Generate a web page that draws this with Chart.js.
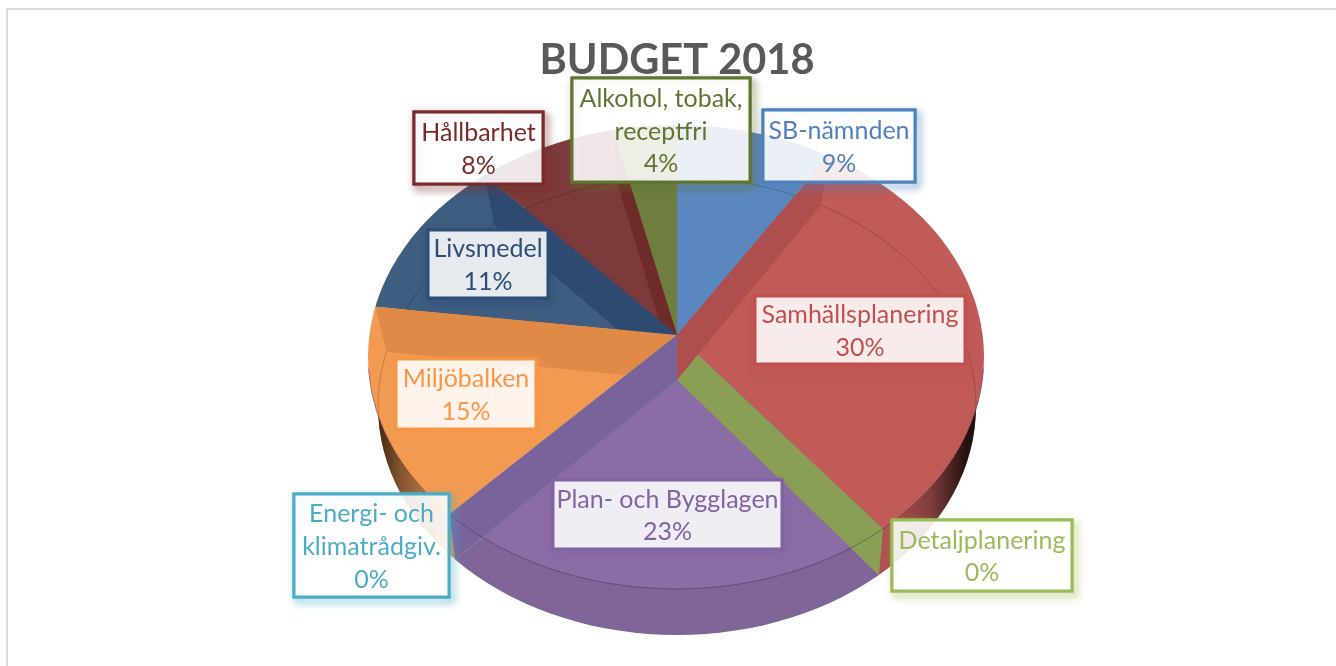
<!DOCTYPE html>
<html lang="sv">

<head>
    <meta charset="UTF-8">
    <title>BUDGET 2018</title>
    <script src="https://cdn.jsdelivr.net/npm/chart.js@4/dist/chart.umd.min.js"></script>
    <style>
        html, body { margin: 0; padding: 0; background: #fff; overflow: hidden; width: 1336px; height: 666px; }
        .ram { position: absolute; left: 6px; top: 8px; width: 1400px; height: 800px; border: 2px solid #dcdcdc; box-sizing: border-box; }
        canvas { position: absolute; left: 0; top: 0; }
    </style>
</head>

<body>
    <div class="ram"></div>
    <canvas id="myChart" width="1354" height="666"></canvas>

    <script>
        var titel = 'BUDGET 2018';
        var kategorier = ['SB-nämnden', 'Samhällsplanering', 'Detaljplanering', 'Plan- och Bygglagen', 'Energi- och klimatrådgiv.', 'Miljöbalken', 'Livsmedel', 'Hållbarhet', 'Alkohol, tobak, receptfri'];
        var andelar = [8.9, 30.49, 0, 22.61, 0, 15, 11.4, 8, 3.6];

        // rader i etiketterna
        var etikettRader = [['SB-nämnden'], ['Samhällsplanering'], ['Detaljplanering'], ['Plan- och Bygglagen'], ['Energi- och', 'klimatrådgiv.'], ['Miljöbalken'], ['Livsmedel'], ['Hållbarhet'], ['Alkohol, tobak,', 'receptfri']];

        var ytFarger = ['#5b87bf', '#c05b58', '#9bbb59', '#8a6da5', '#4bacc6', '#f39a52', '#3f5c81', '#7c3a3a', '#6d7e3f'];
        var kantFarger = ['#ae4f4f', '#ae4f4f', '#8a9f55', '#7a639b', '#4bacc6', '#e08a48', '#2f4a70', '#6f2a2a', '#6d7e3f'];
        var textFarger = ['#4f81bd', '#c0504d', '#9bbb59', '#8064a2', '#4bacc6', '#f79646', '#2c4d75', '#772c2a', '#5f7530'];

        // etikettrutor: x, y, bredd, höjd
        var rutor = [
            [763, 110, 152, 72],
            [755, 296, 210, 68],
            [892, 520, 180, 71],
            [553, 480, 229, 69],
            [294, 494, 155, 103],
            [396, 359, 140, 70],
            [428, 230, 120, 68],
            [414, 112, 129, 72],
            [572, 78, 178, 104]
        ];

        // ovansida och undersida av kakan (ellips + spets)
        var topp = { cx: 676, cy: 357, rx: 308, ry: 232, ax: 677, ay: 335, lutning: 0.74 };
        var botten = { cx: 677, cy: 406, rx: 299, ry: 229, ax: 677, ay: 380, lutning: 0.76 };

        function ritaYta(ctx, bagar, yta) {
            ctx.save();
            ctx.beginPath();
            ctx.ellipse(yta.cx, yta.cy, yta.rx, yta.ry, 0, 0, Math.PI * 2);
            ctx.clip();
            bagar.forEach(function (bage) {
                var skala = 440 / bage.outerRadius;
                ctx.save();
                ctx.translate(yta.ax, yta.ay);
                ctx.scale(skala, skala * yta.lutning);
                ctx.translate(-bage.x, -bage.y);
                bage.draw(ctx);
                ctx.restore();
            });
            ctx.restore();
        }

        function kantPunkt(yta, vinkel) {
            var dx = Math.cos(vinkel), dy = Math.sin(vinkel) * yta.lutning;
            var ox = (yta.ax - yta.cx) / yta.rx, oy = (yta.ay - yta.cy) / yta.ry;
            var vx = dx / yta.rx, vy = dy / yta.ry;
            var a = vx * vx + vy * vy, b = 2 * (ox * vx + oy * vy), c = ox * ox + oy * oy - 1;
            var t = (-b + Math.sqrt(b * b - 4 * a * c)) / (2 * a);
            return [yta.ax + t * dx, yta.ay + t * dy];
        }

        function ritaVagg(ctx, vinkel, farg) {
            var p = kantPunkt(topp, vinkel), q = kantPunkt(botten, vinkel);
            ctx.fillStyle = farg;
            ctx.beginPath();
            ctx.moveTo(topp.ax, topp.ay);
            ctx.lineTo(p[0], p[1]);
            ctx.lineTo(q[0], q[1]);
            ctx.lineTo(botten.ax, botten.ay);
            ctx.closePath();
            ctx.fill();
        }

        function ritaEtikett(ctx, i) {
            var r = rutor[i];
            var rader = etikettRader[i].concat([Math.round(andelar[i]) + '%']);
            var farg = textFarger[i];
            ctx.save();
            ctx.lineWidth = 3;
            ctx.strokeStyle = farg;
            ctx.shadowColor = farg;
            ctx.shadowBlur = 9;
            ctx.shadowOffsetX = 3;
            ctx.shadowOffsetY = 4;
            ctx.strokeRect(r[0], r[1], r[2], r[3]);
            ctx.restore();

            ctx.fillStyle = 'rgba(255, 255, 255, 0.88)';
            ctx.fillRect(r[0], r[1], r[2], r[3]);

            ctx.lineWidth = 3;
            ctx.strokeStyle = farg;
            ctx.strokeRect(r[0], r[1], r[2], r[3]);

            ctx.fillStyle = farg;
            ctx.font = '25px Lato';
            ctx.textAlign = 'center';
            ctx.textBaseline = 'middle';
            var mitt = r[1] + r[3] / 2 + 1.5;
            rader.forEach(function (rad, n) {
                ctx.fillText(rad, r[0] + r[2] / 2, mitt + (n - (rader.length - 1) / 2) * 32.8);
            });
        }

        var kaka3d = {
            id: 'kaka3d',
            beforeDatasetsDraw: function (chart) {
                var ctx = chart.ctx;
                var bagar = chart.getDatasetMeta(0).data;

                ritaYta(ctx, bagar, botten);

                // mörk skugga på sidorna av kanten
                ctx.save();
                ctx.beginPath();
                ctx.ellipse(botten.cx, botten.cy, botten.rx, botten.ry, 0, 0, Math.PI * 2);
                ctx.clip();
                var g = ctx.createLinearGradient(370, 0, 985, 0);
                g.addColorStop(0, 'rgba(0,0,0,0.85)');
                g.addColorStop(0.05, 'rgba(0,0,0,0.45)');
                g.addColorStop(0.13, 'rgba(0,0,0,0.08)');
                g.addColorStop(0.83, 'rgba(0,0,0,0.08)');
                g.addColorStop(0.91, 'rgba(0,0,0,0.32)');
                g.addColorStop(0.97, 'rgba(0,0,0,0.82)');
                ctx.fillStyle = g;
                ctx.fillRect(360, 150, 640, 500);
                ctx.restore();

                ritaYta(ctx, bagar, topp);

                // undersidans bakre kant syns genom ytan
                ctx.save();
                ctx.beginPath();
                ctx.ellipse(topp.cx, topp.cy, topp.rx, topp.ry, 0, 0, Math.PI * 2);
                ctx.clip();
                ctx.strokeStyle = 'rgba(0,0,0,0.2)';
                ctx.lineWidth = 1;
                ctx.beginPath();
                ctx.ellipse(botten.cx, botten.cy, botten.rx, botten.ry, 0, 0, Math.PI * 2);
                ctx.stroke();
                ctx.restore();

                // väggar mellan tårtbitarna, bakifrån i listan
                for (var i = bagar.length - 1; i >= 0; i--) {
                    var start = bagar[i].startAngle + Math.PI / 2;
                    var slut = bagar[i].endAngle + Math.PI / 2;
                    if (start < Math.PI) ritaVagg(ctx, bagar[i].startAngle, kantFarger[i]);
                    if (slut > Math.PI) ritaVagg(ctx, bagar[i].endAngle, kantFarger[i]);
                }

                ctx.save();
                ctx.strokeStyle = 'rgba(60,40,80,0.45)';
                ctx.lineWidth = 1;
                ctx.beginPath();
                ctx.ellipse(topp.cx, topp.cy, topp.rx, topp.ry, 0, 0.05, Math.PI - 0.05);
                ctx.stroke();
                ctx.restore();

                return false;
            },
            afterDraw: function (chart) {
                for (var i = 0; i < rutor.length; i++) {
                    ritaEtikett(chart.ctx, i);
                }
            }
        };

        new Chart(document.getElementById('myChart').getContext('2d'), {
            type: 'pie',
            data: {
                labels: kategorier,
                datasets: [{
                    data: andelar,
                    backgroundColor: ytFarger,
                    borderWidth: 0
                }]
            },
            options: {
                responsive: false,
                animation: false,
                events: [],
                plugins: {
                    legend: { display: false },
                    tooltip: { enabled: false },
                    title: {
                        display: true,
                        text: titel,
                        color: '#595959',
                        font: { family: 'Lato', size: 41.5, weight: 'bold' },
                        padding: { top: 36, bottom: 10 }
                    }
                }
            },
            plugins: [kaka3d]
        });
    </script>
</body>

</html>
